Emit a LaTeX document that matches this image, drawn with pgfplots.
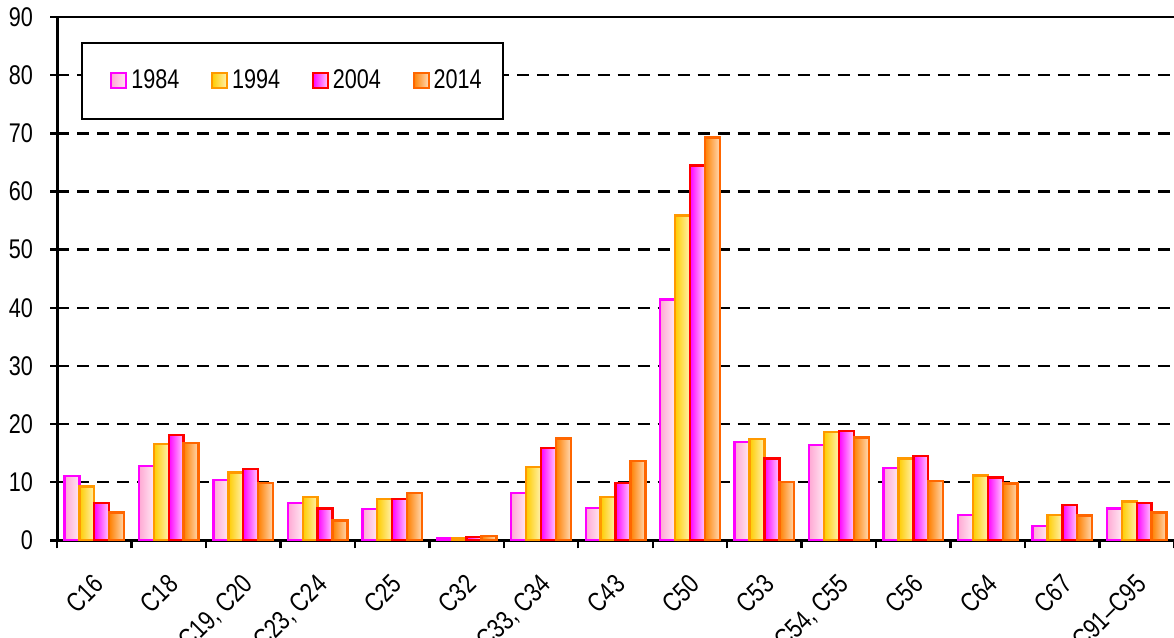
\documentclass[border=0pt]{standalone}
\usepackage{pgfplots}
\pgfplotsset{compat=1.18}
\usepackage{pgfplotstable}
\usepackage{fontspec}
\setmainfont{Liberation Sans}[FakeStretch=0.8]

\definecolor{e84}{HTML}{FF00FF}
\definecolor{l84}{HTML}{FFA8D4}
\definecolor{r84}{HTML}{FFE8F3}
\definecolor{e94}{HTML}{FF9900}
\definecolor{l94}{HTML}{FFCC00}
\definecolor{r94}{HTML}{FFF2B0}
\definecolor{e04}{HTML}{FF0000}
\definecolor{l04}{HTML}{FF00FF}
\definecolor{r04}{HTML}{FFCCFF}
\definecolor{e14}{HTML}{FF6600}
\definecolor{l14}{HTML}{FF8000}
\definecolor{r14}{HTML}{FFD9B3}

\pgfplotstableread{
x y84 y94 y04 y14
0 11.1 9.3 6.4 4.8
1 12.8 16.6 18.1 16.8
2 10.4 11.7 12.3 9.9
3 6.4 7.5 5.5 3.4
4 5.4 7.1 7.1 8.2
5 0.4 0.4 0.6 0.8
6 8.2 12.6 15.9 17.5
7 5.6 7.5 9.9 13.7
8 41.4 55.9 64.5 69.3
9 16.9 17.4 14.1 10.0
10 16.4 18.6 18.8 17.7
11 12.5 14.1 14.5 10.2
12 4.4 11.2 10.8 9.8
13 2.5 4.4 6.1 4.3
14 5.5 6.7 6.4 4.8
}\data

\pgfplotsset{
  sq/.style={legend image code/.code={%
    \path (0pt,0pt);
    \draw[##1, line width=1pt] (5.5pt,-3.75pt) rectangle (13pt,3.75pt);}},
  s84/.style={draw=e84, left color=l84, right color=r84, line width=1.2pt},
  s94/.style={draw=e94, left color=l94, right color=r94, line width=1.2pt},
  s04/.style={draw=e04, left color=l04, right color=r04, line width=1.2pt},
  s14/.style={draw=e14, left color=l14, right color=r14, line width=1.2pt},
}

\begin{document}
\begin{tikzpicture}
\begin{axis}[
    name=ax,
    scale only axis,
    width=558pt, height=261.5pt,
    ybar, bar width=0.2,
    xmin=-0.5, xmax=14.5, ymin=0, ymax=90,
    axis x line*=bottom, axis y line*=left,
    axis line style={line width=1.5pt},
    tick align=outside,
    major tick length=3.5pt, minor tick length=4pt,
    ytick={0,10,...,80},
    extra y ticks={90},
    extra y tick style={grid style={solid, black, line width=1.2pt}},
    ymajorgrids,
    grid style={black, dash pattern=on 6pt off 4pt, line width=1.2pt},
    ytick style={black, line width=1.2pt},
    xtick={0,...,14},
    xticklabels={C16, C18, {C19, C20}, {C23, C24}, C25, C32, {C33, C34}, C43, C50, C53, {C54, C55}, C56, C64, C67, C91--C95},
    major x tick style={draw=none},
    minor xtick={-0.5,0.5,...,14.5},
    minor x tick style={black, line width=1.2pt},
    /pgf/number format/assume math mode=true,
    tick label style={font=\fontsize{13.5}{16}\selectfont},
    yticklabel style={xshift=-5pt},
    xticklabel style={rotate=45, anchor=north east, inner sep=0pt, yshift=-8pt, xshift=-9.5pt},
    legend columns=4,
    legend style={at={(0.0215,0.953)}, anchor=north west, draw=black, line width=1pt,
        fill=white, inner xsep=8.5pt, inner ysep=11.5pt,
        font=\fontsize{13.5}{16}\selectfont,
        /tikz/every even column/.append style={column sep=8.2pt}},
]
% one plot per bar, so that each bar gets its own gradient
\pgfplotsinvokeforeach{0,...,14}{
  \addplot[forget plot, s84, bar shift=-0.3, x filter/.expression={abs(x-#1)<0.5 ? x : nan}] table[x=x, y=y84] {\data};
  \addplot[forget plot, s94, bar shift=-0.1, x filter/.expression={abs(x-#1)<0.5 ? x : nan}] table[x=x, y=y94] {\data};
  \addplot[forget plot, s04, bar shift=0.1, x filter/.expression={abs(x-#1)<0.5 ? x : nan}] table[x=x, y=y04] {\data};
  \addplot[forget plot, s14, bar shift=0.3, x filter/.expression={abs(x-#1)<0.5 ? x : nan}] table[x=x, y=y14] {\data};
}
\addlegendimage{sq, s84}\addlegendentry{1984}
\addlegendimage{sq, s94}\addlegendentry{1994}
\addlegendimage{sq, s04}\addlegendentry{2004}
\addlegendimage{sq, s14}\addlegendentry{2014}
\end{axis}
\pgfresetboundingbox
\path[use as bounding box] ([xshift=-28.5pt, yshift=-48.5pt]ax.south west) rectangle ([yshift=8.5pt]ax.north east);
\end{tikzpicture}
\end{document}
